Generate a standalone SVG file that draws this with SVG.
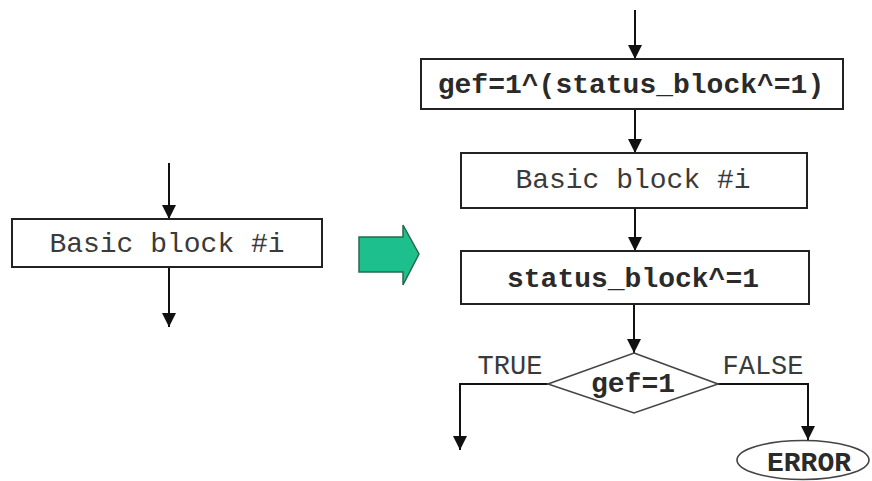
<svg xmlns="http://www.w3.org/2000/svg" width="872" height="481" viewBox="0 0 872 481">
<defs>
<marker id="ah" markerUnits="userSpaceOnUse" markerWidth="14" markerHeight="14" refX="14" refY="7" orient="auto">
<path d="M0,0 L14,7 L0,14 z" fill="#111"/>
</marker>
<style>
.box{fill:#fff;stroke:#222;stroke-width:2}
.ln{fill:none;stroke:#111;stroke-width:2;marker-end:url(#ah)}
.t{font-family:"Liberation Mono","Courier New",monospace;font-size:28px;fill:#3a3a3a;text-anchor:middle}
.b{font-weight:bold;fill:#2a2a2a}
.s{font-size:27px}
.shp{fill:#fff;stroke:#444;stroke-width:1.6}
</style>
</defs>
<rect width="872" height="481" fill="#fff"/>
<g id="connectors">
<line class="ln" x1="169" y1="163" x2="169" y2="219"/>
<line class="ln" x1="169" y1="267" x2="169" y2="327"/>
<line class="ln" x1="635" y1="10" x2="635" y2="59"/>
<line class="ln" x1="635" y1="109" x2="635" y2="153"/>
<line class="ln" x1="635" y1="208" x2="635" y2="251"/>
<line class="ln" x1="634" y1="304" x2="634" y2="353"/>
<polyline class="ln" points="548,384 460,384 460,450"/>
<polyline class="ln" points="718,384 808,384 808,440"/>
</g>
<g id="left-block">
<rect class="box" x="12" y="219" width="310" height="48"/>
<text class="t" x="167" y="252">Basic block #i</text>
</g>
<g id="transform-arrow">
<path d="M359,237 L403,237 L403,225 L419,254 L403,285 L403,272 L359,272 z" fill="#1dbf8c" stroke="#2a6a4a" stroke-width="1.5"/>
</g>
<g id="gef-init">
<rect class="box" x="421" y="59" width="422" height="50"/>
<text class="t b" x="631" y="93">gef=1^(status_block^=1)</text>
</g>
<g id="basic-block">
<rect class="box" x="461" y="153" width="346" height="55"/>
<text class="t" x="633" y="188">Basic block #i</text>
</g>
<g id="status-update">
<rect class="box" x="461" y="251" width="348" height="53"/>
<text class="t b" x="633" y="287">status_block^=1</text>
</g>
<g id="decision">
<polygon class="shp" points="634,353 718,384 634,413 548,384"/>
<text class="t b" x="633" y="392">gef=1</text>
<text class="t s" x="510" y="374">TRUE</text>
<text class="t s" x="763" y="374">FALSE</text>
</g>
<g id="error">
<ellipse class="shp" cx="803" cy="460" rx="66" ry="19.5"/>
<text class="t b" x="809" y="471">ERROR</text>
</g>
</svg>
